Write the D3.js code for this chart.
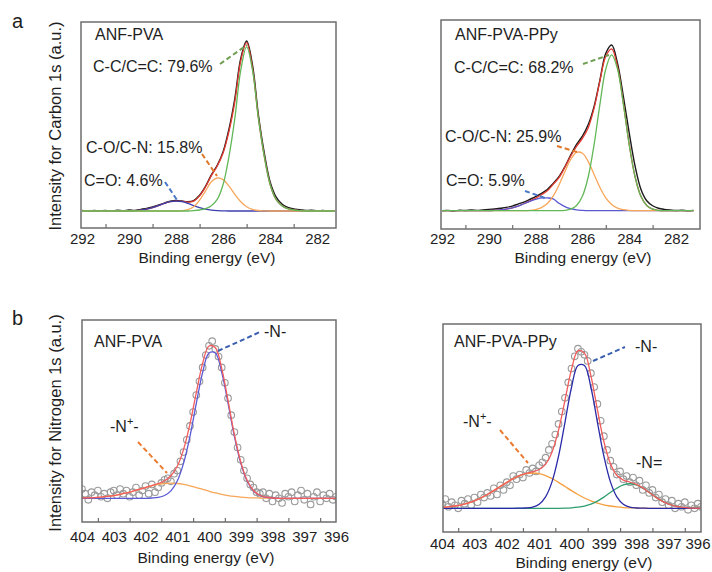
<!DOCTYPE html>
<html><head><meta charset="utf-8">
<script src="https://cdn.jsdelivr.net/npm/d3@7"></script>
<style>
body{margin:0;background:#fff}
svg{display:block}
text{font-family:Arial,"Liberation Sans",sans-serif;fill:#1e1e1e}
</style>
</head><body>
<svg id="c" width="712" height="572"></svg>
<script>
// ---------- DATA ----------
// Carbon 1s binding energy grid (eV)
const cEnergy = [292,291.75,291.5,291.25,291,290.75,290.5,290.25,290,289.75,289.5,289.25,289,288.75,288.5,288.25,288,287.75,287.5,287.25,287,286.75,286.5,286.25,286,285.75,285.5,285.25,285,284.75,284.5,284.25,284,283.75,283.5,283.25,283,282.75,282.5,282.25,282,281.75,281.5,281.25];
// ANF-PVA C1s
const c1Raw    = [0.3,-0.2,0.4,0,0.3,-0.1,0.5,0.2,0.6,0.4,1.0,1.6,2.5,3.6,4.8,5.9,6.3,6.0,5.6,6.3,9.5,14.8,21.8,27.5,35.8,49.5,68,92,102.5,88,58,35,17.5,8.5,4.2,2.2,1.2,0.8,0.3,0.5,0.1,0.3,-0.1,0.2];
const c1Fit    = [0,0,0,0,0,0,0,0,0.1,0.2,0.5,1.1,2.0,3.3,4.6,5.6,6.0,5.8,5.4,6.0,9.1,14.5,21.3,27.1,35.0,48,66,90.6,101.5,86,56.3,33.1,16,7,3.2,1.4,0.6,0.2,0,0,0,0,0,0];
const c1CC     = [0,0,0,0,0,0,0,0,0,0,0,0,0,0,0,0,0,0,0,0.2,0.6,1.4,3.2,7,16,33,56,85,99,85,56,33,16,7,3.2,1.4,0.6,0.2,0,0,0,0,0,0];
const c1CO     = [0,0,0,0,0,0,0,0,0,0,0,0,0,0,0,0,0,0.2,0.8,2.5,6.5,12.0,17.6,19.9,18.9,15.0,10.0,5.6,2.6,1.0,0.3,0.1,0,0,0,0,0,0,0,0,0,0,0,0];
const c1CdO    = [0,0,0,0,0,0,0,0,0.1,0.2,0.5,1.1,2.0,3.3,4.6,5.6,6.0,5.6,4.6,3.3,2.0,1.1,0.5,0.2,0.1,0,0,0,0,0,0,0,0,0,0,0,0,0,0,0,0,0,0,0];
// ANF-PVA-PPy C1s
const c2Raw    = [0,0.2,-0.2,0.3,0.1,0.4,0.2,0.5,0.7,1.0,1.5,2.0,2.8,4.0,5.2,6.8,8.5,10.5,12.8,16.5,20.5,26.5,33.5,40,45,52,63,79,95,100,89,69,47,27,13,6,3,1.5,0.8,0.4,0.1,0.3,-0.1,0.2];
const c2Fit    = [0,0,0,0,0,0,0,0,0.1,0.2,0.5,1.0,1.7,2.8,4.2,5.8,7.6,9.6,12.0,15.9,20.0,26.2,33.0,38.8,43.6,50.1,61.8,78.3,93.2,97.7,87.0,64.9,40.1,20.5,8.7,3.1,0.9,0.2,0,0,0,0,0,0];
const c2CC     = [0,0,0,0,0,0,0,0,0,0,0,0,0,0,0,0,0,0,0,0,0,0.2,0.9,3.1,8.7,20.5,39.9,64.3,85.5,94,85.5,64.3,39.9,20.5,8.7,3.1,0.9,0.2,0,0,0,0,0,0];
const c2CO     = [0,0,0,0,0,0,0,0,0,0,0,0,0,0,0,0.2,0.7,1.9,4.3,8.8,15.5,23.5,30.9,35.2,34.7,29.6,21.9,14.0,7.7,3.7,1.5,0.6,0.2,0,0,0,0,0,0,0,0,0,0,0];
const c2CdO    = [0,0,0,0,0,0,0,0,0.1,0.2,0.5,1.0,1.7,2.8,4.2,5.6,6.9,7.7,7.7,7.1,4.5,2.5,1.2,0.5,0.2,0,0,0,0,0,0,0,0,0,0,0,0,0,0,0,0,0,0,0];

// Nitrogen 1s fit grid (eV)
const nEnergy = [404,403.8,403.6,403.4,403.2,403,402.8,402.6,402.4,402.2,402,401.8,401.6,401.4,401.2,401,400.8,400.6,400.4,400.2,400,399.8,399.6,399.4,399.2,399,398.8,398.6,398.4,398.2,398,397.8,397.6,397.4,397.2,397,396.8,396.6,396.4,396.2,396];
// Nitrogen 1s measured points grid (eV)
const nPtEnergy = [404,403.9,403.8,403.7,403.6,403.5,403.4,403.3,403.2,403.1,403,402.9,402.8,402.7,402.6,402.5,402.4,402.3,402.2,402.1,402,401.9,401.8,401.7,401.6,401.5,401.4,401.3,401.2,401.1,401,400.9,400.8,400.7,400.6,400.5,400.4,400.3,400.2,400.1,400,399.9,399.8,399.7,399.6,399.5,399.4,399.3,399.2,399.1,399,398.9,398.8,398.7,398.6,398.5,398.4,398.3,398.2,398.1,398,397.9,397.8,397.7,397.6,397.5,397.4,397.3,397.2,397.1,397,396.9,396.8,396.7,396.6,396.5,396.4,396.3,396.2,396.1,396];
// ANF-PVA N1s
const n1Pts = [6,3,-1,4,2,5,1,3,0,4, 5,2,6,3,5,1,4,7,2,5, 8,3,9,4,7,10,12,13,11,16, 18,24,30,38,47,56,67,76,85,93, 99,102,97,92,85,75,65,54,43,33, 25,18,13,9,7,4,3,4,0,3, -2,2,0,-3,3,1,4,-2,2,5, -1,3,-4,1,4,-2,2,0,3,-1, 1];
const n1Fit = [0.2,0.3,0.5,0.8,1.2,1.8,2.6,3.5,4.6,5.8,7.0,8.3,9.6,11.4,14.6,20.8,31.8,48.3,68.6,87.6,98.9,97.8,84.4,63.4,41.4,23.6,11.7,5.1,2.0,0.7,0.2,0,0,0,0,0,0,0,0,0,0];
const n1N   = [0,0,0,0,0,0,0,0,0,0,0,0.2,0.6,1.8,4.8,11.2,22.8,40.2,61.6,81.8,94.3,94.3,81.8,61.6,40.2,22.8,11.2,4.8,1.8,0.6,0.2,0,0,0,0,0,0,0,0,0,0];
const n1Np  = [0.2,0.3,0.5,0.8,1.2,1.8,2.6,3.5,4.6,5.8,7.0,8.1,9.0,9.6,9.8,9.6,9.0,8.1,7.0,5.8,4.6,3.5,2.6,1.8,1.2,0.8,0.5,0.3,0.2,0.1,0,0,0,0,0,0,0,0,0,0,0];
// ANF-PVA-PPy N1s
const n2Pts = [3,6,1,4,2,0,5,3,6,2, 7,4,9,7,10,8,13,9,15,12, 17,15,21,19,22,20,25,23,26,24, 28,30,33,38,42,48,55,63,72,82, 91,99,104,102,100,96,88,79,68,57, 47,38,31,27,22,24,19,21,17,20, 15,18,12,15,10,12,7,9,4,6, 2,5,0,3,1,4,-1,2,0,3, 1];
const n2Fit = [0.5,0.9,1.5,2.2,3.4,4.9,6.7,9.0,11.5,14.2,16.9,19.3,21.4,22.8,23.8,25.3,28.8,36.7,50.9,70.5,90.5,102.7,101.1,86.3,64.3,43.5,29.2,21.5,18.4,17.1,15.6,13.3,10.3,7.3,4.7,2.7,1.4,0.7,0.3,0.1,0];
const n2N   = [0,0,0,0,0,0,0,0,0,0,0,0,0.1,0.2,0.8,2.7,7.5,17.4,34.0,56.2,78.7,93.0,93.0,78.7,56.2,34.0,17.4,7.5,2.7,0.8,0.2,0.1,0,0,0,0,0,0,0,0,0];
const n2Np  = [0.5,0.9,1.5,2.2,3.4,4.9,6.7,9.0,11.5,14.2,16.9,19.3,21.3,22.6,23,22.6,21.3,19.3,16.9,14.2,11.5,9.0,6.7,4.9,3.4,2.2,1.5,0.9,0.5,0.3,0.2,0.1,0,0,0,0,0,0,0,0,0];
const n2Ndb = [0,0,0,0,0,0,0,0,0,0,0,0,0,0,0,0,0,0,0,0.1,0.3,0.7,1.4,2.7,4.7,7.3,10.3,13.1,15.2,16,15.2,13.1,10.3,7.3,4.7,2.7,1.4,0.7,0.3,0.1,0];

// Tick labels
const cTicks = [292,290,288,286,284,282];
const cMinor = [291,289,287,285,283];
const nTicks = [404,403,402,401,400,399,398,397,396];
const nMinor = [403.5,402.5,401.5,400.5,399.5,398.5,397.5,396.5];

// ---------- DRAW ----------
const svg = d3.select("#c");
const FONT = 16;

function drawPanel(p, idx){
  const g = svg.append("g");
  const x = d3.scaleLinear().domain(p.xDomain).range(p.xRange);
  const y = d3.scaleLinear().domain([0, p.yRef]).range([p.yBase, p.yRefPx]);
  const b = p.box;
  const cid = "clip"+idx;
  g.append("clipPath").attr("id", cid).append("rect")
    .attr("x", b[0]).attr("y", b[1]).attr("width", b[2]-b[0]).attr("height", b[3]-b[1]);
  const plot = g.append("g").attr("clip-path", `url(#${cid})`);

  if (p.points) {
    plot.selectAll("circle").data(p.points.e.map((e,i)=>[e,p.points.v[i]])).join("circle")
      .attr("cx", d=>x(d[0])).attr("cy", d=>y(d[1])).attr("r", 3.3)
      .attr("fill", "none").attr("stroke", "#9a9a9a").attr("stroke-width", 1.1);
  }
  const line = d3.line().curve(d3.curveCatmullRom.alpha(0.5));
  p.series.forEach(s=>{
    plot.append("path")
      .attr("d", line(p.energy.map((e,i)=>[x(e), y(s.v[i])])))
      .attr("fill","none").attr("stroke", s.color).attr("stroke-width", s.w || 1.3);
  });

  // frame
  g.append("rect").attr("x", b[0]).attr("y", b[1]).attr("width", b[2]-b[0]).attr("height", b[3]-b[1])
    .attr("fill","none").attr("stroke","#6e6e6e").attr("stroke-width",1.5);

  // axis labels
  const ax = g.append("g").attr("transform", `translate(0,${b[3]})`)
    .call(d3.axisBottom(x).tickValues(p.ticks).tickFormat(d3.format("d")).tickSize(0).tickPadding(p.pad));
  ax.select(".domain").remove();
  ax.selectAll("text").style("font-size","15px").attr("fill","#1e1e1e")
    .style("font-family",'Arial,"Liberation Sans",sans-serif');
  if (p.lastEnd) {
    ax.selectAll(".tick").filter(d => d === p.ticks[p.ticks.length-1]).select("text")
      .attr("text-anchor","end").attr("dx", p.lastEnd);
  }
  // minor inward ticks
  const mt = g.append("g").attr("transform", `translate(0,${b[3]})`)
    .call(d3.axisTop(x).tickValues(p.minor).tickSize(4).tickFormat(""));
  mt.select(".domain").remove();
  mt.selectAll("line").attr("stroke","#6e6e6e").attr("stroke-width",1.2);

  g.append("text").attr("x", p.title[0]).attr("y", p.title[1]).attr("text-anchor","middle")
    .style("font-size", "15.5px").text("Binding energy (eV)");

  // annotations
  p.labels.forEach(l=>{
    const t = g.append("text").attr("x", l.x).attr("y", l.y).style("font-size", FONT+"px");
    if (l.sup) {
      t.append("tspan").text(l.t[0]);
      t.append("tspan").attr("dy", -7).style("font-size","11px").text(l.sup);
      t.append("tspan").attr("dy", 7).text(l.t[1]);
    } else t.text(l.t);
  });
  p.leaders.forEach(l=>{
    g.append("line").attr("x1", l[0]).attr("y1", l[1]).attr("x2", l[2]).attr("y2", l[3])
      .attr("stroke", l[4]).attr("stroke-width", 2).attr("stroke-dasharray","5,3");
  });
}

const BLACK="#1a1a1a";
const panels = [
  { box:[81,22,336,228], xDomain:[292,281.2], xRange:[82,336], yBase:211, yRef:100, yRefPx:45.2,
    energy:cEnergy, ticks:cTicks, minor:cMinor, pad:5, title:[207,263],
    series:[{v:c1Raw,color:BLACK,w:1.4},{v:c1Fit,color:"#e23a30"},{v:c1CdO,color:"#3b3fb0"},{v:c1CO,color:"#f7a65a"},{v:c1CC,color:"#62b858"}],
    labels:[{x:95,y:40,t:"ANF-PVA"},{x:93,y:72,t:"C-C/C=C: 79.6%"},{x:86,y:153,t:"C-O/C-N: 15.8%"},{x:84,y:186,t:"C=O: 4.6%"}],
    leaders:[[220,64,247,45,"#6f9f52"],[202,154,217,176,"#e0782a"],[165,182,177,200,"#4a78c8"]] },
  { box:[441,20,700,229], xDomain:[292,281], xRange:[442,699.4], yBase:210.7, yRef:100, yRefPx:45,
    energy:cEnergy, ticks:cTicks, minor:cMinor, pad:4.5, title:[583,263],
    series:[{v:c2Raw,color:BLACK,w:1.4},{v:c2Fit,color:"#e23a30"},{v:c2CdO,color:"#5a5ad0"},{v:c2CO,color:"#f7a65a"},{v:c2CC,color:"#62b858"}],
    labels:[{x:455,y:40,t:"ANF-PVA-PPy"},{x:454,y:73,t:"C-C/C=C: 68.2%"},{x:445,y:142,t:"C-O/C-N: 25.9%"},{x:446,y:186,t:"C=O: 5.9%"}],
    leaders:[[583,64,609,55,"#6f9f52"],[557,146,577,152,"#e0782a"],[525,191,545,198,"#4a78c8"]] },
  { box:[82,320,336,522], xDomain:[404,396], xRange:[82,336], yBase:498.3, yRef:100, yRefPx:344.3,
    energy:nEnergy, ticks:nTicks, minor:nMinor, pad:9.5, title:[206,563],
    points:{e:nPtEnergy, v:n1Pts},
    series:[{v:n1Np,color:"#f7a65a"},{v:n1N,color:"#5a5ad6"},{v:n1Fit,color:"#f25c5c"}],
    labels:[{x:94,y:347,t:"ANF-PVA"},{x:264,y:337,t:"-N-"},{x:110,y:432,t:["-N","-"],sup:"+"}],
    leaders:[[218,351,260,332,"#3a5fb0"],[138,442,167,473,"#ec7a30"]] },
  { box:[443,324,701,532], xDomain:[404,396], xRange:[442,701], yBase:508.3, yRef:100, yRefPx:354.8,
    energy:nEnergy, ticks:nTicks, minor:nMinor, pad:6.3, title:[584,568], lastEnd:9,
    points:{e:nPtEnergy, v:n2Pts},
    series:[{v:n2Np,color:"#f5a040"},{v:n2Ndb,color:"#2e9e70"},{v:n2N,color:"#2a2aa8"},{v:n2Fit,color:"#f25c5c"}],
    labels:[{x:454,y:347,t:"ANF-PVA-PPy"},{x:635,y:352,t:"-N-"},{x:463,y:427,t:["-N","-"],sup:"+"},{x:636,y:468,t:"-N="}],
    leaders:[[593,361,625,347,"#3a5fb0"],[500,430,528,463,"#ec7a30"]] }
];
panels.forEach(drawPanel);

// y axis titles and panel letters
svg.append("text").attr("transform","translate(61,126) rotate(-90)").attr("text-anchor","middle")
  .style("font-size", "16.5px").text("Intensity for Carbon 1s (a.u.)");
svg.append("text").attr("transform","translate(61,423) rotate(-90)").attr("text-anchor","middle")
  .style("font-size", "16.5px").text("Intensity for Nitrogen 1s (a.u.)");
svg.append("text").attr("x",12).attr("y",27.5).style("font-size","20px").text("a");
svg.append("text").attr("x",12).attr("y",325).style("font-size","20px").text("b");
</script>
</body></html>
